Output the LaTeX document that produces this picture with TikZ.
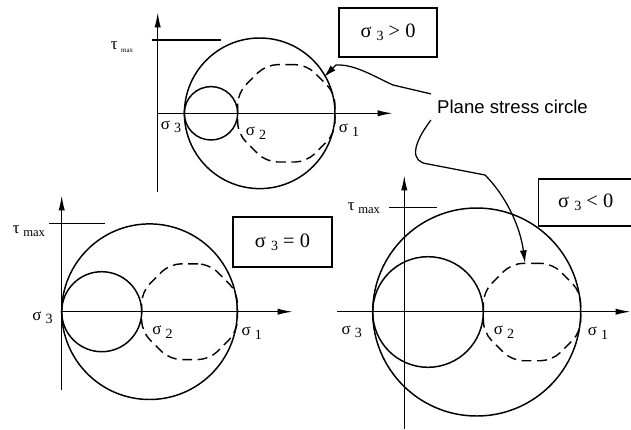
\documentclass[tikz,border=0pt]{standalone}
\usepackage{fontspec}
\setmainfont{Liberation Serif}
\newfontfamily\labelsans{Liberation Sans}
\usetikzlibrary{arrows.meta,positioning,shapes.geometric}

\newcommand{\sig}[1]{σ\ \raisebox{-2.4pt}{\fontsize{10}{10}\selectfont #1}}
\newcommand{\taumax}[1]{τ\hspace{2.5pt}\raisebox{-2pt}{\fontsize{#1}{#1}\selectfont max}}

\begin{document}
\begin{tikzpicture}[x=0.025cm, y=-0.025cm,
    axis/.style={-{Latex[length=11pt,width=4.5pt]}, line width=1.1pt},
    mohr/.style={line width=1.05pt},
    octo/.style={draw, dash pattern=on 7pt off 4pt, line width=1pt, regular polygon, regular polygon sides=8, inner sep=0pt, rounded corners=8pt},
    casebox/.style={draw, line width=1.1pt, inner sep=0pt, font=\fontsize{14.5}{16}\selectfont},
    lbl/.style={inner sep=0pt, font=\fontsize{12}{14}\selectfont},
    pointer/.style={-{Latex[length=9pt,width=5pt]}, line width=0.9pt}
  ]
    \useasboundingbox (0,0) rectangle (631,429);

    \draw[axis] (157.7,192) -- (157.7,12);
    \draw[axis] (157.7,113.3) -- (393,113.3);
    \draw[mohr] (151.7,40) -- (220.7,40);
    \draw[mohr] (259.7,113.3) circle[radius=75.3];
    \draw[mohr] (211,113.3) circle[radius=26.7];
    \node[octo, minimum size=2.635cm] (d1) at (286.3,113.3) {};
    \node[lbl] (tau1) at (122,47) {\taumax{5}};
    \node[lbl] (s13) at (171,127) {\sig{3}};
    \node[lbl] (s12) at (256,133) {\sig{2}};
    \node[lbl] (s11) at (349,130) {\sig{1}};
    \node[casebox, minimum width=2.45cm, minimum height=1.225cm] (c1) at (388,32.5) {\sig{3} > 0};

    \draw[axis] (61.7,390) -- (61.7,195);
    \draw[axis] (61.7,311.7) -- (293,311.7);
    \draw[mohr] (49.3,223.3) -- (105,223.3);
    \draw[mohr] (149.5,311.7) circle[radius=87.8];
    \draw[mohr] (101.7,311.7) circle[radius=40];
    \node[octo, minimum size=2.59cm] (d2) at (189.5,311.7) {};
    \node[lbl] (tau2) at (29,231) {\taumax{9}};
    \node[lbl] (s23) at (42.5,318) {\sig{3}};
    \node[lbl] (s22) at (162.5,332) {\sig{2}};
    \node[lbl] (s21) at (251.7,333) {\sig{1}};
    \node[casebox, minimum width=2.475cm, minimum height=1.25cm] (c2) at (282.5,242) {\sig{3} = 0};

    \draw[axis] (404.3,429) -- (404.3,175);
    \draw[axis] (337.3,311.7) -- (631,311.7);
    \draw[mohr] (389.3,207.7) -- (436.7,207.7);
    \draw[mohr] (476.7,312) circle[radius=104];
    \draw[mohr] (428,312) circle[radius=55.3];
    \node[octo, minimum size=2.635cm] (d3) at (532,312) {};
    \node[lbl] (tau3) at (364,208) {\taumax{9}};
    \node[lbl] (s33) at (351.7,332) {\sig{3}};
    \node[lbl] (s32) at (504,332) {\sig{2}};
    \node[lbl] (s31) at (598,333) {\sig{1}};
    \node[casebox, minimum width=2.36cm, minimum height=1.175cm] (c3) at (585.7,202.5) {\sig{3} < 0};

    \node[inner sep=0.15cm, font=\labelsans\fontsize{13.2}{15}\selectfont] (ps) at (512.5,107) {Plane stress circle};
    \coordinate (h1) at (324,77);
    \coordinate (h2) at (525,263);
    \draw[pointer] (ps.north west) -- (393,85) .. controls (375,77) and (355,64) .. (336,65) -- (h1);
    \draw[pointer] (ps.south west) .. controls (412,145) and (410,162) .. (428,164) -- (485,175) .. controls (505,195) and (520,225) .. (h2);
  \end{tikzpicture}
\end{document}
